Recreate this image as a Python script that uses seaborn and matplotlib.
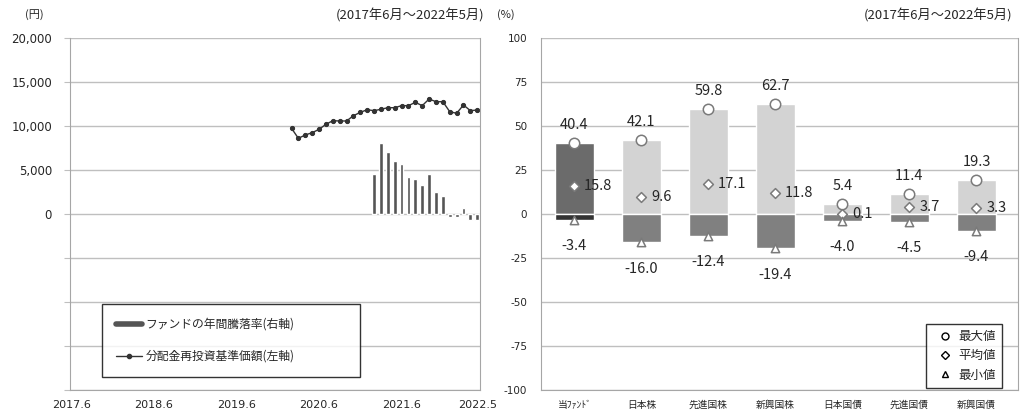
import numpy as np
import pandas as pd
import matplotlib
matplotlib.use("Agg")
import matplotlib.pyplot as plt
from matplotlib.lines import Line2D
import seaborn as sns

# left chart: NAV (left axis) and annual return bars (hidden right axis)
period_start = pd.Period("2017-06", freq="M")
nav_start = pd.Period("2020-02", freq="M")
nav_values = [9740, 8600, 8980, 9240, 9620, 10190, 10600, 10570, 10570, 11170,
              11550, 11850, 11740, 11900, 12080, 12080, 12310, 12310, 12690, 12310,
              13070, 12760, 12760, 11630, 11440, 12390, 11740, 11820]
ret_start = pd.Period("2021-02", freq="M")
ret_values = [23.0, 40.4, 35.0, 30.1, 28.2, 21.2, 20.0, 16.5, 22.5, 12.5,
              10.0, -1.5, -1.5, 3.2, -3.4, -3.4]
x_tickmonths = [0, 12, 24, 36, 48, 59]
x_ticklabels = ["2017.6", "2018.6", "2019.6", "2020.6", "2021.6", "2022.5"]

# right chart: max / avg / min of annual returns
categories = ["当ﾌｧﾝﾄﾞ", "日本株", "先進国株", "新興国株", "日本国債", "先進国債", "新興国債"]
max_vals = [40.4, 42.1, 59.8, 62.7, 5.4, 11.4, 19.3]
avg_vals = [15.8, 9.6, 17.1, 11.8, 0.1, 3.7, 3.3]
min_vals = [-3.4, -16.0, -12.4, -19.4, -4.0, -4.5, -9.4]

sns.set_style("white")
plt.rcParams['font.family'] = ['Noto Sans CJK JP', 'DejaVu Sans']

GRID = "#bfbfbf"
SPINE = "#a6a6a6"
NUMFONT = "DejaVu Sans"

fig = plt.figure(figsize=(10.24, 4.17), dpi=100)

# ---------------- left chart ----------------
ax1 = fig.add_axes([70 / 1024, 27 / 417, 410 / 1024, 352 / 417])
ax1b = ax1.twinx()
ax1.set_zorder(ax1b.get_zorder() + 1)
ax1.patch.set_visible(False)

nav_x = (nav_start - period_start).n + np.arange(len(nav_values))
ret_x = (ret_start - period_start).n + np.arange(len(ret_values))

sns.barplot(x=ret_x, y=ret_values, native_scale=True, ax=ax1b,
            color="#555555", saturation=1, width=0.55)
sns.lineplot(x=nav_x, y=nav_values, ax=ax1, color="#333333", linewidth=1,
             marker="o", markersize=3, markeredgecolor="#333333")

ax1b.set_ylim(-100, 100)
ax1b.set_yticks(np.arange(-100, 101, 25))
ax1b.set_yticklabels([])
ax1b.tick_params(axis="y", length=0)
ax1b.grid(axis="y", color=GRID, linewidth=1)
ax1b.set_axisbelow(True)
for s in ax1b.spines.values():
    s.set_visible(False)

ax1.set_ylim(-20000, 20000)
yt = np.arange(-20000, 20001, 5000)
ax1.set_yticks(yt)
ax1.set_yticklabels([f"{v:,}" if v >= 0 else "" for v in yt], fontfamily=NUMFONT)
ax1.set_xlim(-0.2, 59.4)
ax1.set_xticks(x_tickmonths)
ax1.set_xticklabels(x_ticklabels, fontfamily=NUMFONT)
ax1.tick_params(axis="y", length=4, color=GRID, direction="out", pad=9, labelsize=8.5)
ax1.tick_params(axis="x", length=0, pad=7, labelsize=8)
ax1.set_xlabel("")
ax1.set_ylabel("")
ax1b.set_ylabel("")
ax1.spines["top"].set_visible(False)
for k in ["left", "right", "bottom"]:
    ax1.spines[k].set_color(SPINE)

handles1 = [Line2D([0], [0], color="#555555", linewidth=4),
            Line2D([0], [0], color="#333333", linewidth=1, marker="o", markersize=3)]
labels1 = ["ファンドの年間騰落率(右軸)", "分配金再投資基準価額(左軸)"]
ax1.legend(handles1, labels1, loc="lower left", mode="expand",
           bbox_to_anchor=(0.078, 0.037, 0.63, 0.2), frameon=True, fancybox=False,
           edgecolor="black", fontsize=8.5, labelspacing=1.6, borderpad=1.2,
           handlelength=2.2, handletextpad=0.3, borderaxespad=0)

fig.text(25 / 1024, 1 - 15 / 417, "(円)", fontsize=8, va="center")
fig.text(484 / 1024, 1 - 15 / 417, "(2017年6月～2022年5月)", fontsize=9.5,
         va="center", ha="right")

# ---------------- right chart ----------------
ax2 = fig.add_axes([541 / 1024, 27 / 417, 477 / 1024, 352 / 417])
df = pd.DataFrame({"cat": categories, "max": max_vals, "avg": avg_vals, "min": min_vals})
pos_palette = ["#6b6b6b"] + ["#d3d3d3"] * (len(categories) - 1)
neg_palette = ["#333333"] + ["#808080"] * (len(categories) - 1)

sns.barplot(data=df, x="cat", y="max", hue="cat", palette=pos_palette, legend=False,
            width=0.57, saturation=1, ax=ax2)
sns.barplot(data=df, x="cat", y="min", hue="cat", palette=neg_palette, legend=False,
            width=0.57, saturation=1, ax=ax2)
for col, mk, sz in [("max", "o", 7.5), ("avg", "D", 5), ("min", "^", 6)]:
    sns.stripplot(data=df, x="cat", y=col, jitter=False, marker=mk, size=sz,
                  color="white", edgecolor="#7a7a7a", linewidth=1.1, ax=ax2, zorder=4)

for i, row in df.iterrows():
    ax2.annotate(f"{row['max']:.1f}", (i, row["max"]), xytext=(0, 13),
                 textcoords="offset points", ha="center", va="center", fontsize=10.5)
    ax2.annotate(f"{row['min']:.1f}", (i, row["min"]), xytext=(0, -19),
                 textcoords="offset points", ha="center", va="center", fontsize=10.5)
    ax2.annotate(f"{row['avg']:.1f}", (i, row["avg"]), xytext=(7, 0),
                 textcoords="offset points", ha="left", va="center", fontsize=10.5)

ax2.set_ylim(-100, 100)
ax2.set_yticks(np.arange(-100, 101, 25))
ax2.set_yticklabels([f"{v:d}" for v in np.arange(-100, 101, 25)], fontfamily=NUMFONT)
ax2.set_xlim(-0.5, len(categories) - 0.38)
ax2.grid(axis="y", color=GRID, linewidth=1)
ax2.set_axisbelow(True)
ax2.tick_params(axis="y", length=4, color=GRID, direction="out", pad=6, labelsize=7.5)
ax2.tick_params(axis="x", length=0, pad=7, labelsize=7)
ax2.set_xlabel("")
ax2.set_ylabel("")
ax2.spines["top"].set_visible(False)
for k in ["left", "right", "bottom"]:
    ax2.spines[k].set_color(SPINE)

handles2 = [Line2D([], [], ls="", marker="o", mfc="white", mec="black", ms=5),
            Line2D([], [], ls="", marker="D", mfc="white", mec="black", ms=4),
            Line2D([], [], ls="", marker="^", mfc="white", mec="black", ms=5)]
ax2.legend(handles2, ["最大値", "平均値", "最小値"], loc="lower right",
           bbox_to_anchor=(0.967, 0.006), frameon=True, fancybox=False,
           edgecolor="black", fontsize=9, labelspacing=0.5, borderpad=0.5,
           handlelength=2.0, handletextpad=0.1, borderaxespad=0)

fig.text(497 / 1024, 1 - 15 / 417, "(%)", fontsize=8, va="center")
fig.text(1012 / 1024, 1 - 15 / 417, "(2017年6月～2022年5月)", fontsize=9.5,
         va="center", ha="right")

fig.savefig("out.png", dpi=100, facecolor="white")
